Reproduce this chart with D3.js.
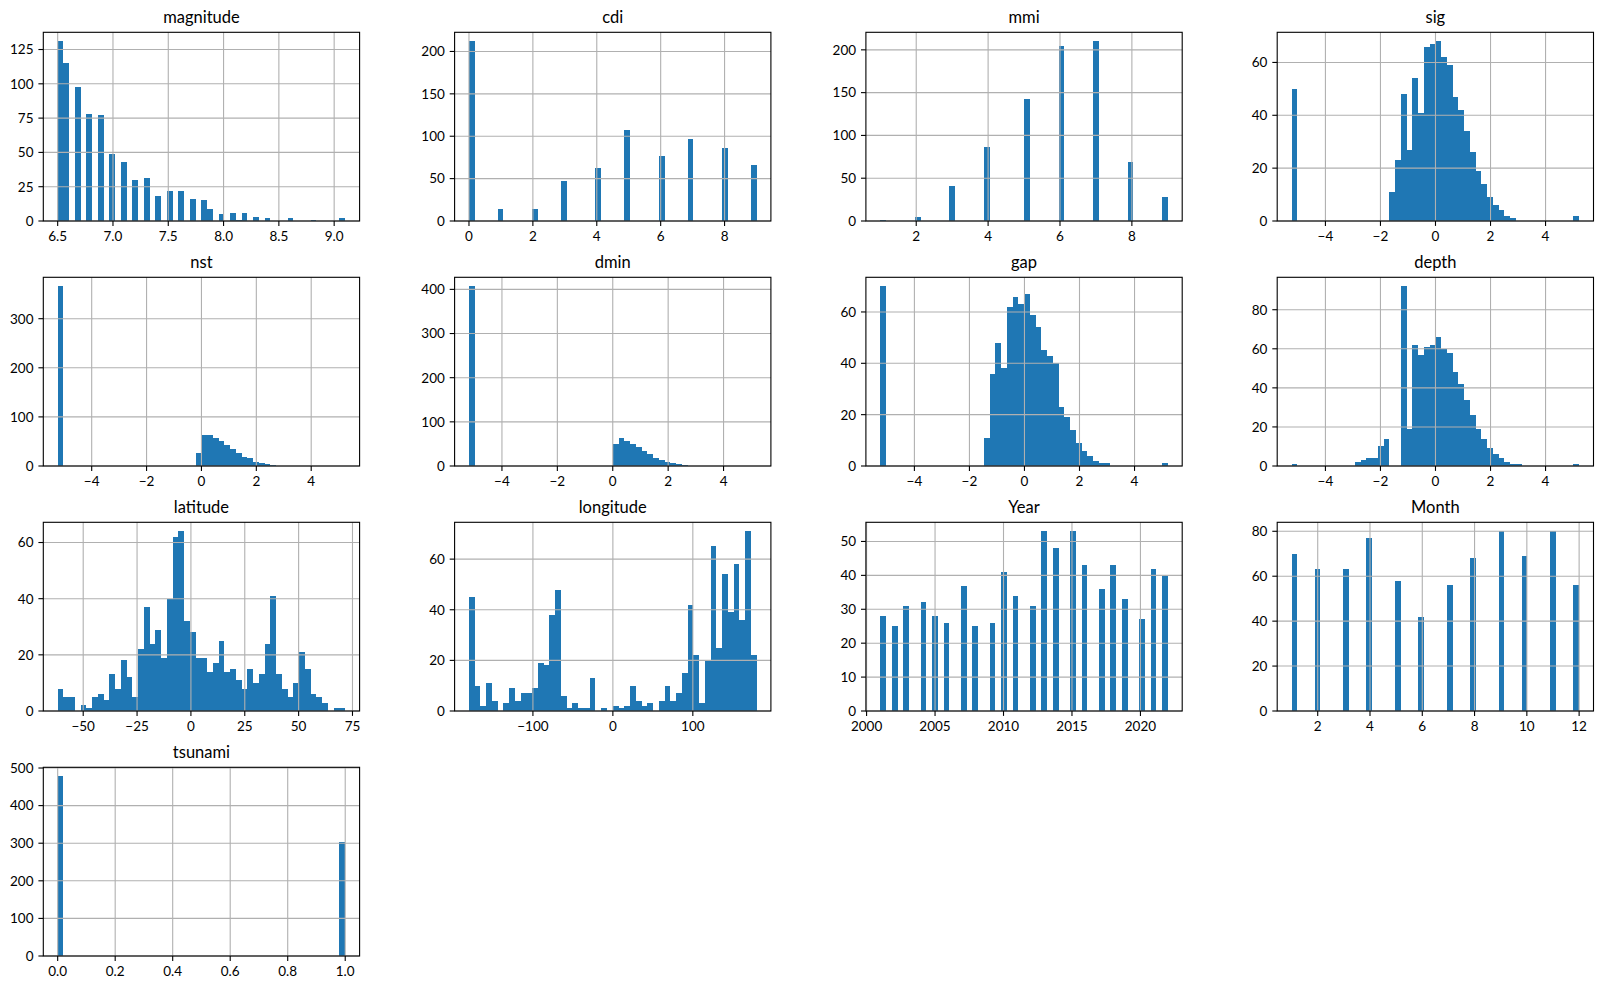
<!DOCTYPE html>
<html>
<head>
<meta charset="utf-8">
<script src="https://cdn.jsdelivr.net/npm/d3@7"></script>
<style>
  body { margin: 0; background: #fff; }
  text { font-family: Lato, "DejaVu Sans", sans-serif; fill: #000; }
</style>
</head>
<body>
<div id="chart"></div>
<script>
// Data: 50-bin histogram counts per column
const titles = ['magnitude', 'cdi', 'mmi', 'sig', 'nst', 'dmin', 'gap', 'depth',
  'latitude', 'longitude', 'Year', 'Month', 'tsunami']

// [min, max] of each column = extent of its 50 bins
const binRanges = [
  [6.5, 9.1], [0, 9], [1, 9], [-5.23, 5.22], [-5.24, 5.24], [-5.19, 5.19],
  [-5.24, 5.21], [-5.23, 5.22], [-61.85, 71.63], [-179.97, 179.66],
  [2001, 2022], [1, 12], [0, 1]
]

const magnitudeCounts = [
  131, 115, 0, 98, 0, 78, 0, 77, 0, 49,
  0, 43, 0, 30, 0, 31, 0, 18, 0, 22,
  0, 22, 0, 16, 0, 15, 9, 0, 5, 0,
  6, 1, 6, 0, 3, 0, 2, 0, 0, 0,
  2, 0, 0, 0, 1, 0, 0, 0, 0, 2]
const cdiCounts = [
  212, 0, 0, 0, 0, 14, 0, 0, 0, 0,
  0, 14, 0, 0, 0, 0, 47, 0, 0, 0,
  0, 0, 62, 0, 0, 0, 0, 107, 0, 0,
  0, 0, 0, 77, 0, 0, 0, 0, 97, 0,
  0, 0, 0, 0, 86, 0, 0, 0, 0, 66]
const mmiCounts = [
  1, 0, 0, 0, 0, 0, 5, 0, 0, 0,
  0, 0, 41, 0, 0, 0, 0, 0, 87, 0,
  0, 0, 0, 0, 0, 142, 0, 0, 0, 0,
  0, 204, 0, 0, 0, 0, 0, 210, 0, 0,
  0, 0, 0, 69, 0, 0, 0, 0, 0, 28]
const sigCounts = [
  50, 0, 0, 0, 0, 0, 0, 0, 0, 0,
  0, 0, 0, 0, 0, 0, 0, 11, 23, 48,
  27, 54, 41, 66, 67, 68, 62, 59, 47, 42,
  34, 26, 19, 14, 9, 6, 4, 2, 1, 0,
  0, 0, 0, 0, 0, 0, 0, 0, 0, 2]
const nstCounts = [
  366, 0, 0, 0, 0, 0, 0, 0, 0, 0,
  0, 0, 0, 0, 0, 0, 0, 0, 0, 0,
  0, 0, 0, 0, 26, 63, 63, 57, 51, 43,
  35, 26, 18, 16, 8, 6, 4, 2, 0, 0,
  0, 0, 0, 0, 0, 0, 0, 0, 0, 0]
const dminCounts = [
  407, 0, 0, 0, 0, 0, 0, 0, 0, 0,
  0, 0, 0, 0, 0, 0, 0, 0, 0, 0,
  0, 0, 0, 0, 0, 50, 63, 56, 50, 43,
  34, 27, 18, 14, 9, 7, 4, 2, 0, 0,
  0, 0, 0, 0, 0, 0, 0, 0, 0, 0]
const gapCounts = [
  70, 0, 0, 0, 0, 0, 0, 0, 0, 0,
  0, 0, 0, 0, 0, 0, 0, 0, 11, 36,
  48, 38, 62, 66, 63, 67, 59, 54, 45, 43,
  40, 23, 19, 14, 9, 6, 4, 2, 1, 1,
  0, 0, 0, 0, 0, 0, 0, 0, 0, 1]
const depthCounts = [
  1, 0, 0, 0, 0, 0, 0, 0, 0, 0,
  0, 2, 3, 4, 4, 10, 14, 0, 0, 92,
  19, 62, 57, 61, 62, 66, 60, 58, 48, 42,
  34, 26, 19, 14, 9, 6, 4, 2, 1, 1,
  0, 0, 0, 0, 0, 0, 0, 0, 0, 1]
const latitudeCounts = [
  8, 5, 5, 0, 2, 1, 5, 6, 4, 13,
  8, 18, 12, 5, 22, 37, 24, 29, 19, 40,
  62, 64, 32, 28, 19, 19, 14, 17, 25, 14,
  15, 11, 8, 15, 10, 13, 24, 41, 13, 8,
  5, 10, 21, 15, 6, 5, 3, 0, 1, 1]
const longitudeCounts = [
  45, 10, 2, 11, 4, 0, 3, 9, 4, 7,
  7, 9, 19, 18, 38, 48, 6, 1, 3, 1,
  1, 13, 0, 1, 0, 2, 1, 2, 10, 4,
  2, 3, 0, 4, 10, 4, 7, 15, 42, 22,
  3, 20, 65, 25, 54, 39, 58, 36, 71, 22]
const yearCounts = [
  28, 0, 25, 0, 31, 0, 0, 32, 0, 28,
  0, 26, 0, 0, 37, 0, 25, 0, 0, 26,
  0, 41, 0, 34, 0, 0, 31, 0, 53, 0,
  48, 0, 0, 53, 0, 43, 0, 0, 36, 0,
  43, 0, 33, 0, 0, 27, 0, 42, 0, 40]
const monthCounts = [
  70, 0, 0, 0, 63, 0, 0, 0, 0, 63,
  0, 0, 0, 77, 0, 0, 0, 0, 58, 0,
  0, 0, 42, 0, 0, 0, 0, 56, 0, 0,
  0, 68, 0, 0, 0, 0, 80, 0, 0, 0,
  69, 0, 0, 0, 0, 80, 0, 0, 0, 56]
const tsunamiCounts = [
  478, 0, 0, 0, 0, 0, 0, 0, 0, 0,
  0, 0, 0, 0, 0, 0, 0, 0, 0, 0,
  0, 0, 0, 0, 0, 0, 0, 0, 0, 0,
  0, 0, 0, 0, 0, 0, 0, 0, 0, 0,
  0, 0, 0, 0, 0, 0, 0, 0, 0, 304]

const xTicks = [
  [6.5, 7, 7.5, 8, 8.5, 9], [0, 2, 4, 6, 8], [2, 4, 6, 8],
  [-4, -2, 0, 2, 4], [-4, -2, 0, 2, 4], [-4, -2, 0, 2, 4],
  [-4, -2, 0, 2, 4], [-4, -2, 0, 2, 4], [-50, -25, 0, 25, 50, 75],
  [-100, 0, 100], [2000, 2005, 2010, 2015, 2020], [2, 4, 6, 8, 10, 12],
  [0, 0.2, 0.4, 0.6, 0.8, 1.0]
]
const yTicks = [
  [0, 25, 50, 75, 100, 125], [0, 50, 100, 150, 200], [0, 50, 100, 150, 200],
  [0, 20, 40, 60], [0, 100, 200, 300], [0, 100, 200, 300, 400],
  [0, 20, 40, 60], [0, 20, 40, 60, 80], [0, 20, 40, 60],
  [0, 20, 40, 60], [0, 10, 20, 30, 40, 50], [0, 20, 40, 60, 80],
  [0, 100, 200, 300, 400, 500]
]
const xFormats = ['.1f', 'd', 'd', 'd', 'd', 'd', 'd', 'd', 'd', 'd', 'd', 'd', '.1f']

const allCounts = [magnitudeCounts, cdiCounts, mmiCounts, sigCounts, nstCounts,
  dminCounts, gapCounts, depthCounts, latitudeCounts, longitudeCounts,
  yearCounts, monthCounts, tsunamiCounts]

// Dimensions
const dims = {
  width: 1602, height: 990,
  left: 43.3, top: 32.3,
  w: 316.3, h: 188.7,
  colStep: 411.3, rowStep: 245,
  tick: 4.9, pad: 4.9
}

const svg = d3.select('#chart')
  .append('svg')
  .attr('width', dims.width)
  .attr('height', dims.height)

svg.append('rect').attr('width', dims.width).attr('height', dims.height).attr('fill', '#fff')

titles.forEach((title, i) => {
  const counts = allCounts[i]
  const [lo, hi] = binRanges[i]
  const span = hi - lo
  const nBins = counts.length
  const binW = span / nBins

  const col = i % 4, row = Math.floor(i / 4)
  const g = svg.append('g')
    .attr('transform', `translate(${dims.left + col * dims.colStep}, ${dims.top + row * dims.rowStep})`)

  const x = d3.scaleLinear()
    .domain([lo - 0.05 * span, hi + 0.05 * span])
    .range([0, dims.w])
  const y = d3.scaleLinear()
    .domain([0, d3.max(counts) * 1.05])
    .range([dims.h, 0])

  const bins = counts.map((c, k) => ({ x0: lo + k * binW, x1: lo + (k + 1) * binW, c }))

  // bars
  g.append('g').selectAll('rect')
    .data(bins.filter(b => b.c > 0))
    .join('rect')
    .attr('x', d => x(d.x0))
    .attr('width', d => x(d.x1) - x(d.x0))
    .attr('y', d => y(d.c))
    .attr('height', d => y(0) - y(d.c))
    .attr('fill', '#1f77b4')
    .attr('shape-rendering', 'crispEdges')

  // grid (matplotlib draws it over the bars)
  const grid = g.append('g').attr('stroke', '#b0b0b0').attr('stroke-width', 1.1)
  grid.selectAll('.gx').data(xTicks[i]).join('line')
    .attr('x1', d => x(d)).attr('x2', d => x(d))
    .attr('y1', 0).attr('y2', dims.h)
  grid.selectAll('.gy').data(yTicks[i]).join('line')
    .attr('x1', 0).attr('x2', dims.w)
    .attr('y1', d => y(d)).attr('y2', d => y(d))

  // frame
  g.append('rect')
    .attr('width', dims.w).attr('height', dims.h)
    .attr('fill', 'none').attr('stroke', '#000').attr('stroke-width', 1.1)

  // x axis
  const fx = d3.format(xFormats[i])
  const xa = g.append('g').attr('transform', `translate(0, ${dims.h})`)
  xa.selectAll('line').data(xTicks[i]).join('line')
    .attr('x1', d => x(d)).attr('x2', d => x(d))
    .attr('y1', 0).attr('y2', dims.tick)
    .attr('stroke', '#000').attr('stroke-width', 1.1)
  xa.selectAll('text').data(xTicks[i]).join('text')
    .attr('x', d => x(d))
    .attr('y', dims.tick + dims.pad)
    .attr('dy', '0.76em')
    .attr('text-anchor', 'middle')
    .style('font-size', '13.5px')
    .text(d => fx(d))

  // y axis
  const ya = g.append('g')
  ya.selectAll('line').data(yTicks[i]).join('line')
    .attr('x1', -dims.tick).attr('x2', 0)
    .attr('y1', d => y(d)).attr('y2', d => y(d))
    .attr('stroke', '#000').attr('stroke-width', 1.1)
  ya.selectAll('text').data(yTicks[i]).join('text')
    .attr('x', -dims.tick - dims.pad)
    .attr('y', d => y(d))
    .attr('dy', '0.36em')
    .attr('text-anchor', 'end')
    .style('font-size', '13.5px')
    .text(d => d)

  // title
  g.append('text')
    .attr('x', dims.w / 2)
    .attr('y', -9)
    .attr('text-anchor', 'middle')
    .style('font-size', '16.5px')
    .text(title)
})
</script>
</body>
</html>
